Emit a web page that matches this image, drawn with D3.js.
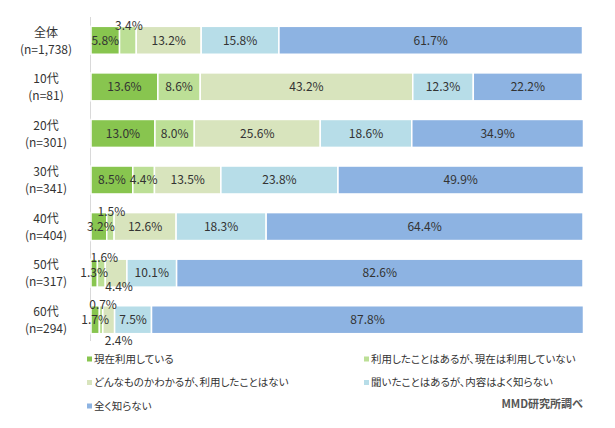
<!DOCTYPE html>
<html><head><meta charset="utf-8">
<script src="https://cdn.jsdelivr.net/npm/d3@7"></script>
<style>
body{margin:0;background:#fff;}
svg{font-family:"Noto Sans CJK JP","Noto Sans",sans-serif;}
.leg{font-feature-settings:"palt";}
</style></head>
<body><svg id="c" width="615" height="428"></svg>
<script>
const categories = ["全体","10代","20代","30代","40代","50代","60代"];
const sampleLabels = ["(n=1,738)","(n=81)","(n=301)","(n=341)","(n=404)","(n=317)","(n=294)"];
const seriesNames = ["現在利用している","利用したことはあるが、現在は利用していない","どんなものかわかるが、利用したことはない","聞いたことはあるが、内容はよく知らない","全く知らない"];
const current   = [5.8, 13.6, 13.0, 8.5, 3.2, 1.3, 1.7];
const usedOnce  = [3.4, 8.6, 8.0, 4.4, 1.5, 1.6, 0.7];
const knowNotUsed = [13.2, 43.2, 25.6, 13.5, 12.6, 4.4, 2.4];
const heardOnly = [15.8, 12.3, 18.6, 23.8, 18.3, 10.1, 7.5];
const notKnow   = [61.7, 22.2, 34.9, 49.9, 64.4, 82.6, 87.8];
const source = "MMD研究所調べ";

const colors = ["#88c54f","#bcdf96","#d8e4bd","#b7dde8","#8db3e2"];
const series = [current, usedOnce, knowNotUsed, heardOnly, notKnow];

// label placement overrides (layout only)
const placeAbove = {"0-1":1,"4-1":1,"5-1":1,"6-1":1};
const placeBelow = {"5-2":0,"6-2":7};
const shiftX = {"0-1":1,"4-0":2,"4-1":1,"5-1":3,"5-2":3,"6-1":2,"6-2":10};

const svg = d3.select("#c");
const x = d3.scaleLinear().domain([0,100]).range([91,583]);
const y = d3.scaleBand().domain(categories).range([17,343]).paddingInner(0.4).paddingOuter(0.2);

svg.append("line").attr("x1",90.5).attr("x2",90.5).attr("y1",17).attr("y2",341)
  .attr("stroke","#d9d9d9").attr("stroke-width",1);

const barsG = svg.append("g");
const labG = svg.append("g");

categories.forEach((cat,i)=>{
  let cum = 0;
  series.forEach((s,j)=>{
    const v = s[i];
    const x0 = x(cum), x1 = x(cum+v);
    barsG.append("rect").attr("x",x0).attr("y",y(cat)).attr("width",x1-x0).attr("height",y.bandwidth())
      .attr("fill",colors[j]).attr("stroke","#fff").attr("stroke-width",1.5);
    const key = i+"-"+j;
    let tx = (x0+x1)/2 + (shiftX[key]||0);
    let ty = y(cat)+y.bandwidth()/2;
    if(placeAbove[key]) ty = y(cat)-1;
    if(key in placeBelow) ty = y(cat)+y.bandwidth()+placeBelow[key];
    labG.append("text").attr("x",tx).attr("y",ty).attr("dy","0.36em")
      .attr("text-anchor","middle").attr("font-size",12).attr("fill","#333")
      .text(v.toFixed(1)+"%");
    cum += v;
  });
  const cy = y(cat)+y.bandwidth()/2;
  svg.append("text").attr("x",46).attr("y",cy-8).attr("dy","0.36em").attr("text-anchor","middle")
    .attr("font-size",12).attr("fill","#333").text(cat);
  svg.append("text").attr("x",46).attr("y",cy+9).attr("dy","0.36em").attr("text-anchor","middle")
    .attr("font-size",12).attr("fill","#333").text(sampleLabels[i]);
});

const legPos = [[89,359],[366,359],[89,382.5],[366,382.5],[89,406]];
seriesNames.forEach((n,j)=>{
  const [lx,ly] = legPos[j];
  svg.append("rect").attr("x",lx-2).attr("y",ly-2.5).attr("width",5).attr("height",5).attr("fill",colors[j]);
  svg.append("text").attr("class","leg").attr("x",lx+5).attr("y",ly).attr("dy","0.36em")
    .attr("font-size",10.5).attr("fill","#333").text(n);
});
svg.append("text").attr("x",583).attr("y",404).attr("dy","0.36em").attr("text-anchor","end")
  .attr("font-size",11).attr("font-weight","bold").attr("fill","#555").text(source);
</script></body></html>
